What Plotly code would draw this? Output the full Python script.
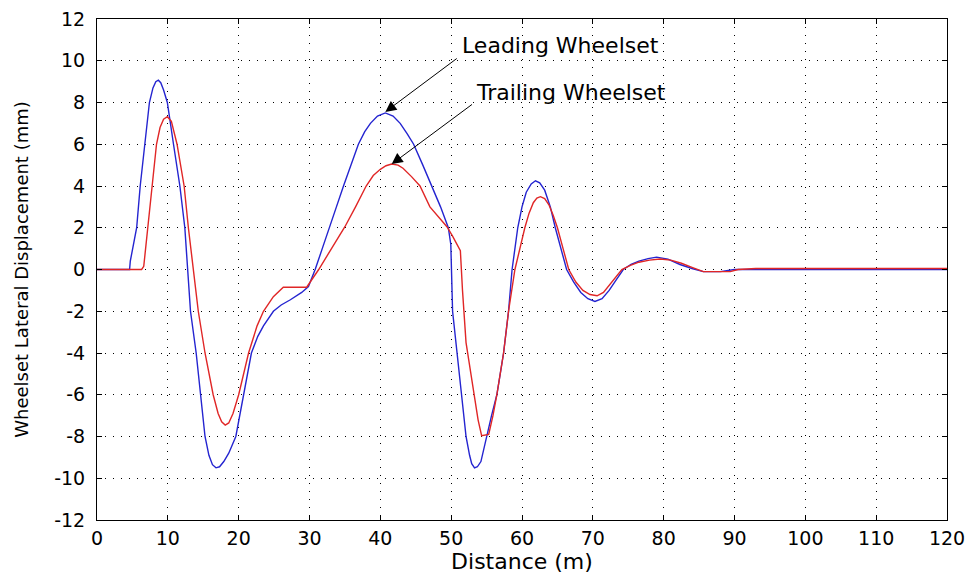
import plotly.graph_objects as go

# Lateral displacement of the two wheelsets along the track
lead_dist = [0, 4.6, 4.7, 5.6, 6.1, 6.7, 7.4, 7.9, 8.3, 8.66, 9.0, 9.4, 9.93, 10.8,
             11.7, 12.4, 12.75, 13.2, 14.0, 14.6, 15.25, 15.8, 16.3, 16.8, 17.3,
             17.9, 18.6, 19.6, 20.7, 21.8, 22.7, 23.5, 24.9, 26.0, 27.3, 28.9, 29.85,
             30.8, 31.8, 32.9, 33.8, 34.8, 35.9, 36.9, 37.8, 38.6, 39.6, 40.7, 41.8,
             42.8, 43.8, 44.7, 46.0, 47.3, 48.5, 49.6, 49.95, 50.2, 50.8, 51.5, 52.1,
             52.6, 52.9, 53.3, 53.7, 54.2, 55.0, 55.7, 56.45, 57.4, 58.1, 58.6, 59.4,
             60.0, 60.6, 61.3, 61.9, 62.5, 63.2, 64.0, 64.7, 65.5, 66.3, 67.3, 68.3,
             69.3, 70.3, 71.3, 72.3, 73.3, 74.3, 75.4, 76.5, 77.8, 79.0, 80.6, 82.3,
             84.0, 85.6, 88.0, 90.0, 95.0, 100.0, 110.0, 120.0]
lead_disp = [0, 0, 0.4, 2.0, 4.0, 6.0, 8.0, 8.7, 9.0, 9.07, 8.95, 8.6, 8.0, 6.0,
             4.0, 2.0, 0.0, -2.0, -4.0, -6.0, -8.0, -8.9, -9.35, -9.5, -9.45,
             -9.2, -8.8, -8.0, -6.0, -4.0, -3.2, -2.7, -2.0, -1.7, -1.45, -1.1, -0.82,
             0.0, 1.0, 2.05, 3.0, 4.0, 5.0, 6.0, 6.6, 7.0, 7.35, 7.5, 7.35,
             7.0, 6.5, 6.0, 5.0, 4.0, 3.0, 2.0, 1.2, -2.0, -3.9, -5.9, -8.0,
             -8.9, -9.3, -9.5, -9.45, -9.2, -8.0, -7.0, -6.0, -4.0, -2.0, 0.0, 2.0,
             3.0, 3.7, 4.1, 4.25, 4.15, 3.8, 3.0, 2.0, 1.0, 0.0, -0.6, -1.1,
             -1.4, -1.53, -1.4, -1.0, -0.5, 0.0, 0.25, 0.4, 0.52, 0.59, 0.5, 0.24,
             0.05, -0.1, -0.1, 0.0, 0.0, 0.0, 0.0, 0.0]

trail_dist = [0, 6.3, 6.6, 7.0, 7.5, 8.0, 8.4, 8.9, 9.4, 9.93, 10.5, 11.3, 12.3,
              12.9, 13.6, 14.3, 15.25, 16.4, 17.1, 17.6, 18.1, 18.6, 19.2, 20.0,
              21.4, 22.6, 23.5, 24.9, 26.3, 29.6, 31.3, 33.0, 35.0, 36.5, 38.0,
              39.0, 40.0, 40.8, 41.6, 42.5, 43.2, 44.4, 45.6, 47.0, 48.2, 49.4,
              50.2, 51.3, 51.6, 52.1, 53.2, 53.8, 54.3, 55.3, 55.9, 56.45, 57.4,
              58.1, 59.0, 59.7, 60.4, 61.0, 61.6, 62.1, 62.6, 63.2, 63.8, 64.4,
              65.0, 65.8, 66.6, 67.6, 68.6, 69.6, 70.6, 71.5, 72.3, 73.2, 74.1,
              75.3, 76.5, 78.0, 79.5, 81.0, 82.5, 84.0, 85.6, 89.4, 90.5, 93.0,
              100.0, 108.0, 120.0]
trail_disp = [0, 0, 0.15, 1.5, 3.0, 4.6, 6.0, 6.8, 7.2, 7.32, 7.1, 6.0, 4.0,
              2.0, 0.0, -2.0, -4.0, -6.0, -6.9, -7.3, -7.45, -7.35, -6.9, -6.0,
              -4.0, -2.7, -2.0, -1.3, -0.85, -0.85, 0.0, 0.95, 2.05, 3.0, 4.0,
              4.5, 4.8, 4.97, 5.05, 5.0, 4.85, 4.45, 4.0, 3.0, 2.5, 2.05,
              1.6, 0.9, -1.0, -3.5, -5.9, -7.2, -7.96, -7.9, -7.0, -6.0, -4.0,
              -2.0, 0.0, 1.0, 2.0, 2.7, 3.2, 3.42, 3.49, 3.4, 3.1, 2.6,
              2.0, 1.0, 0.0, -0.6, -1.0, -1.2, -1.26, -1.1, -0.75, -0.4, 0.0,
              0.2, 0.35, 0.45, 0.5, 0.45, 0.3, 0.1, -0.1, -0.1, 0.0, 0.05,
              0.05, 0.05, 0.05]

x_ticks = list(range(0, 121, 10))
y_ticks = list(range(-12, 13, 2))
y_tick_text = [str(v) for v in y_ticks]  # plain hyphen minus signs

FONT = "DejaVu Sans"

fig = go.Figure()
fig.add_trace(go.Scatter(x=lead_dist, y=lead_disp, mode="lines",
                         line=dict(color="#2424d0", width=1.4), name="Leading Wheelset"))
fig.add_trace(go.Scatter(x=trail_dist, y=trail_disp, mode="lines",
                         line=dict(color="#e02626", width=1.4), name="Trailing Wheelset"))

axis_common = dict(
    showline=True, linecolor="black", linewidth=1, mirror="ticks",
    ticks="inside", ticklen=5, tickcolor="black", tickwidth=1,
    showgrid=True, gridcolor="black", gridwidth=1, griddash="1px,7px",
    zeroline=False, automargin=False,
    tickfont=dict(family=FONT, size=19, color="black"),
)

fig.update_xaxes(range=[0, 120], tickvals=x_ticks, ticklabelstandoff=1,
                 title=dict(text="Distance (m)", font=dict(family=FONT, size=22, color="black"),
                            standoff=2),
                 **axis_common)
fig.update_yaxes(range=[-12, 12], tickvals=y_ticks, ticktext=y_tick_text, ticklabelstandoff=7,
                 title=dict(text="Wheelset Lateral Displacement (mm)",
                            font=dict(family=FONT, size=18, color="black"), standoff=20),
                 **axis_common)

# Arrows pointing at the two peaks near 40 m
fig.add_annotation(x=40.7, y=7.55, ax=51.0, ay=10.16, axref="x", ayref="y", text="",
                   showarrow=True, arrowhead=2, arrowsize=2.2, arrowwidth=1, arrowcolor="black")
fig.add_annotation(x=41.6, y=5.05, ax=53.15, ay=7.96, axref="x", ayref="y", text="",
                   showarrow=True, arrowhead=2, arrowsize=2.2, arrowwidth=1, arrowcolor="black")
fig.add_annotation(x=51.2, y=10.75, text="Leading Wheelset", showarrow=False,
                   xanchor="left", yanchor="middle",
                   font=dict(family=FONT, size=22, color="black"))
fig.add_annotation(x=53.2, y=8.5, text="Trailing Wheelset", showarrow=False,
                   xanchor="left", yanchor="middle",
                   font=dict(family=FONT, size=22, color="black"))

fig.update_layout(
    width=973, height=577,
    margin=dict(l=97, r=26, t=19, b=57),
    paper_bgcolor="white", plot_bgcolor="white",
    showlegend=False,
)

fig.write_html("out.html")
